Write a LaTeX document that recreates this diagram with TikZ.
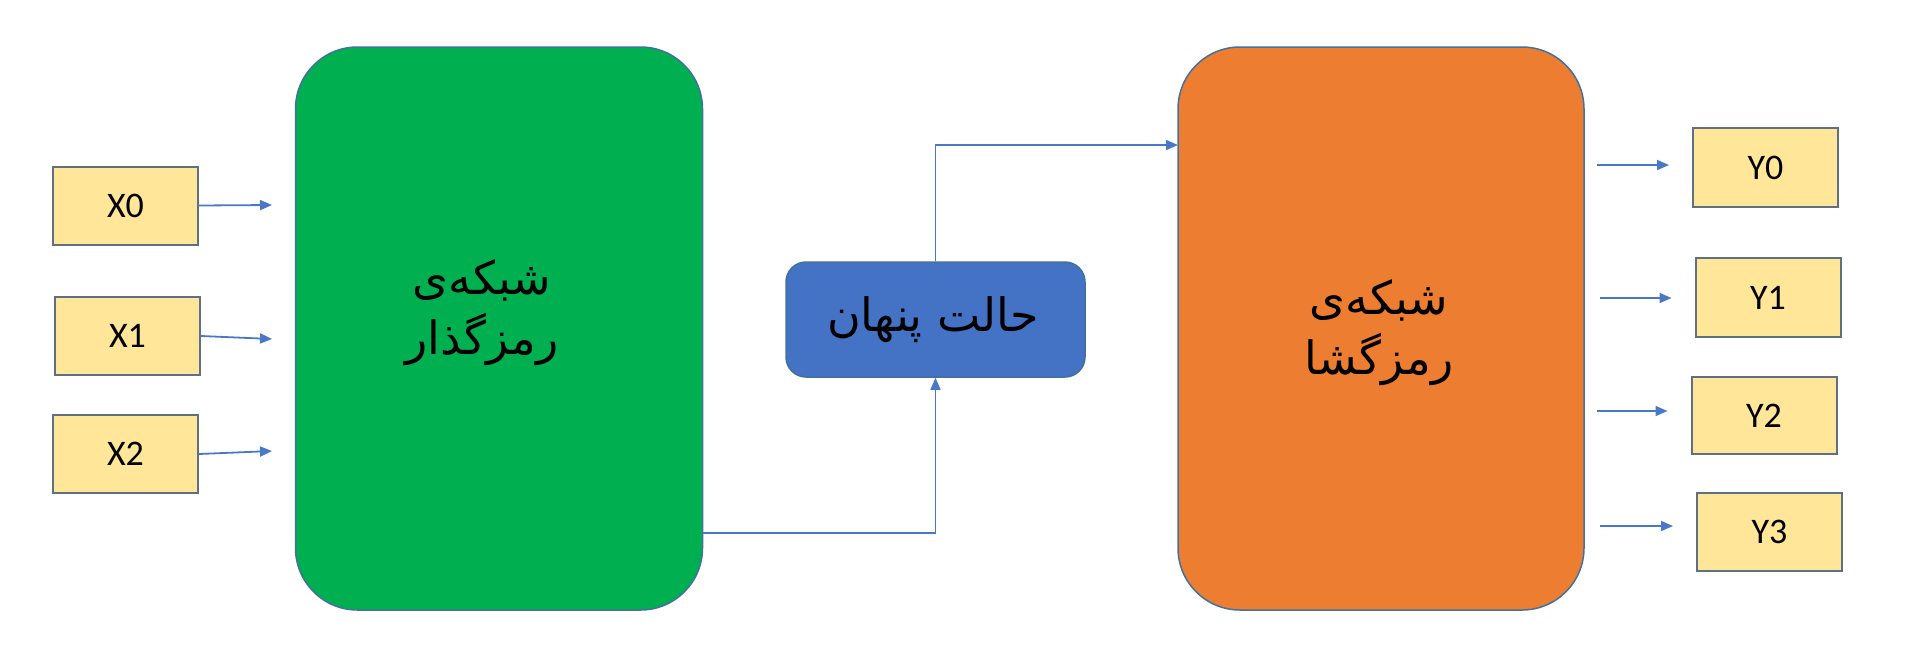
\documentclass[tikz,border=0pt]{standalone}
\usepackage{fontspec}
\setmainfont{Carlito}
\newfontfamily\arabicfont[Script=Arabic]{DejaVu Sans}
\TeXXeTstate=1
\usetikzlibrary{arrows.meta}
\definecolor{encgreen}{HTML}{00B050}
\definecolor{decorange}{HTML}{ED7D31}
\definecolor{hidblue}{HTML}{4472C4}
\definecolor{ioyellow}{HTML}{FFE699}
\definecolor{edgeblue}{HTML}{41719C}
\definecolor{ioedge}{HTML}{5F6F86}
\definecolor{arrowblue}{HTML}{4A78C8}
\tikzset{
  iobox/.style={draw=ioedge, line width=2pt, fill=ioyellow, minimum width=145pt, minimum height=78pt, inner sep=0pt, font=\fontsize{36}{42}\selectfont},
  bigbox/.style={draw=edgeblue, line width=1.5pt, rounded corners=62pt, minimum width=407pt, minimum height=563pt, inner sep=0pt},
  hidbox/.style={draw=edgeblue, line width=1.5pt, fill=hidblue, rounded corners=20pt, minimum width=299pt, minimum height=115pt, inner sep=0pt},
  fatext/.style={align=center, inner sep=0pt, font=\arabicfont\fontsize{46}{60}\selectfont},
  arr/.style={draw=arrowblue, line width=1.8pt, -{Triangle[length=12pt,width=10pt]}},
  link/.style={draw=arrowblue, line width=1.5pt, -{Triangle[length=12pt,width=10pt]}}
}
\begin{document}
\begin{tikzpicture}[x=1pt,y=-1pt]
\useasboundingbox (0,0) rectangle (1920,662);
% big boxes
\node[bigbox, fill=encgreen] (enc) at (499,328.5) {};
\node[bigbox, fill=decorange, minimum width=406pt] (dec) at (1381,328.5) {};
\node[fatext] (enctext) at (482,313) {\beginR شبکه^^^^200cی\endR\\\beginR رمزگذار\endR};
\node[fatext] (dectext) at (1379,333) {\beginR شبکه^^^^200cی\endR\\\beginR رمزگشا\endR};
% hidden state
\node[hidbox] (hid) at (935.5,319.5) {};
\node[fatext] (hidtext) at (933,320) {\beginR حالت پنهان\endR};
% inputs
\node[iobox] (x0) at (125.5,205.5) {X0};
\node[iobox] (x1) at (127.5,336) {X1};
\node[iobox] (x2) at (125.5,454) {X2};
% outputs
\node[iobox, minimum height=79pt] (y0) at (1765.5,167.5) {Y0};
\node[iobox, minimum height=79pt] (y1) at (1768,297.5) {Y1};
\node[iobox, minimum height=77pt] (y2) at (1764,415.5) {Y2};
\node[iobox] (y3) at (1769.5,532) {Y3};
% input arrows
\coordinate (ex0) at (272,205);
\coordinate (ex1) at (272,339);
\coordinate (ex2) at (272,451);
\draw[arr] (x0.east) -- (ex0);
\draw[arr] (x1.east) -- (ex1);
\draw[arr] (x2.east) -- (ex2);
% output arrows
\coordinate (sy0) at (1597,165);
\coordinate (sy1) at (1600,298);
\coordinate (sy2) at (1597,411);
\coordinate (sy3) at (1600,526);
\draw[arr] (sy0) -- ([xshift=-23pt]y0.west |- sy0);
\draw[arr] (sy1) -- ([xshift=-23pt]y1.west |- sy1);
\draw[arr] (sy2) -- ([xshift=-23pt]y2.west |- sy2);
\draw[arr] (sy3) -- ([xshift=-23pt]y3.west |- sy3);
% encoder -> hidden -> decoder
\coordinate (encout) at (703,533);
\coordinate (decin) at (1178,145);
\draw[link] (encout) -| (hid.south);
\draw[link] (hid.north) |- (decin);
\end{tikzpicture}
\end{document}
